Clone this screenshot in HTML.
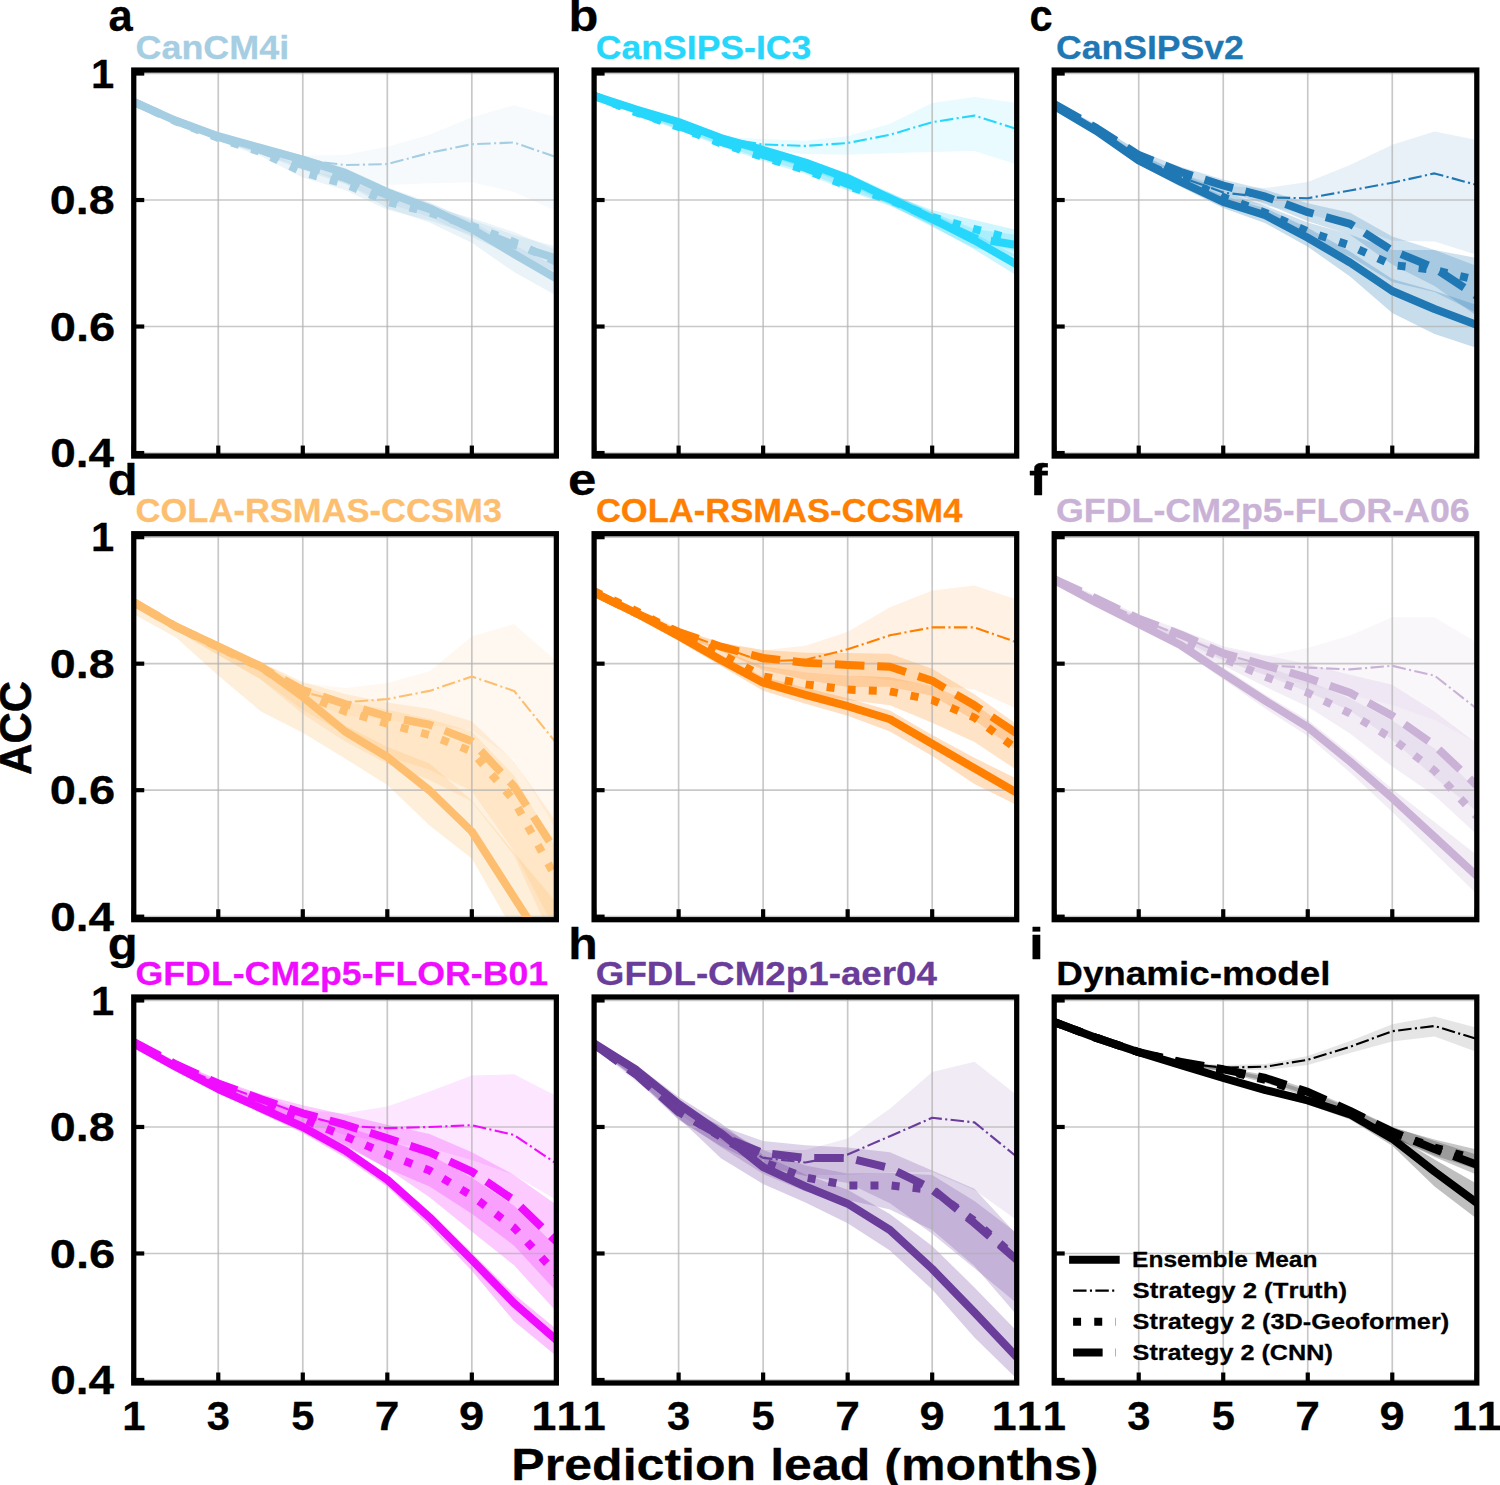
<!DOCTYPE html>
<html><head><meta charset="utf-8"><title>ACC</title><style>html,body{margin:0;padding:0;background:#fff;width:1500px;height:1485px;overflow:hidden}svg{display:block}svg text{font-family:"Liberation Sans", sans-serif;font-weight:bold;font-kerning:none}</style></head><body>
<svg width="1500" height="1485" viewBox="0 0 1500 1485">
<rect width="1500" height="1485" fill="#fff"/>
<clipPath id="cpa"><rect x="133.75" y="70.05" width="422.60" height="386.00"/></clipPath>
<g clip-path="url(#cpa)">
<path d="M133.75,99.00 L176.01,116.50 L218.27,133.00 L260.53,145.50 L302.79,155.50 L345.05,155.00 L387.31,146.80 L429.57,134.70 L471.83,117.30 L514.09,105.20 L556.35,117.30 L556.35,210.90 L514.09,191.90 L471.83,182.30 L429.57,183.20 L387.31,184.90 L345.05,180.00 L302.79,166.00 L260.53,152.00 L218.27,139.00 L176.01,122.50 L133.75,105.00 Z" fill="#a6cee3" fill-opacity="0.1"/>
<path d="M133.75,99.00 L176.01,117.80 L218.27,133.20 L260.53,143.90 L302.79,155.60 L345.05,167.90 L387.31,187.20 L429.57,202.40 L471.83,221.80 L514.09,245.00 L556.35,266.60 L556.35,295.60 L514.09,272.00 L471.83,242.80 L429.57,222.40 L387.31,208.20 L345.05,182.90 L302.79,167.60 L260.53,153.90 L218.27,140.20 L176.01,123.80 L133.75,105.00 Z" fill="#a6cee3" fill-opacity="0.25"/>
<path d="M133.75,99.00 L176.01,118.00 L218.27,134.00 L260.53,146.00 L302.79,161.00 L345.05,173.00 L387.31,189.00 L429.57,203.00 L471.83,220.00 L514.09,235.00 L556.35,246.50 L556.35,271.50 L514.09,256.00 L471.83,237.00 L429.57,217.00 L387.31,203.00 L345.05,184.00 L302.79,170.00 L260.53,154.00 L218.27,140.00 L176.01,124.00 L133.75,105.00 Z" fill="#a6cee3" fill-opacity="0.22"/>
<path d="M133.75,99.00 L176.01,118.50 L218.27,135.00 L260.53,148.00 L302.79,168.40 L345.05,179.00 L387.31,195.80 L429.57,206.60 L471.83,218.00 L514.09,232.00 L556.35,250.00 L556.35,275.00 L514.09,253.00 L471.83,235.00 L429.57,220.60 L387.31,209.80 L345.05,190.00 L302.79,177.40 L260.53,156.00 L218.27,141.00 L176.01,124.50 L133.75,105.00 Z" fill="#a6cee3" fill-opacity="0.22"/>
<g stroke="#b0b0b0" stroke-opacity="0.7" stroke-width="1.68"><line x1="133.75" y1="70.05" x2="133.75" y2="456.05"/><line x1="218.27" y1="70.05" x2="218.27" y2="456.05"/><line x1="302.79" y1="70.05" x2="302.79" y2="456.05"/><line x1="387.31" y1="70.05" x2="387.31" y2="456.05"/><line x1="471.83" y1="70.05" x2="471.83" y2="456.05"/><line x1="556.35" y1="70.05" x2="556.35" y2="456.05"/><line x1="133.75" y1="73.53" x2="556.35" y2="73.53"/><line x1="133.75" y1="200.03" x2="556.35" y2="200.03"/><line x1="133.75" y1="326.53" x2="556.35" y2="326.53"/><line x1="133.75" y1="453.03" x2="556.35" y2="453.03"/></g>
<polyline points="133.75,102.00 176.01,120.80 218.27,136.20 260.53,147.90 302.79,159.60 345.05,172.90 387.31,192.20 429.57,208.40 471.83,228.80 514.09,254.00 556.35,278.60" fill="none" stroke="#a6cee3" stroke-width="7.98" stroke-linejoin="round" stroke-linecap="square"/>
<polyline points="133.75,102.00 176.01,120.80 218.27,136.20 260.53,147.90 302.79,160.00 345.05,165.00 387.31,164.10 429.57,152.90 471.83,144.20 514.09,142.50 556.35,157.20" fill="none" stroke="#a6cee3" stroke-width="2.10" stroke-linejoin="round" stroke-dasharray="13.44 3.36 2.10 3.36"/>
<polyline points="133.75,102.00 176.01,121.50 218.27,138.00 260.53,152.00 302.79,172.40 345.05,184.00 387.31,201.80 429.57,212.60 471.83,226.00 514.09,242.00 556.35,262.00" fill="none" stroke="#a6cee3" stroke-width="7.98" stroke-linejoin="round" stroke-dasharray="7.98 13.17"/>
<polyline points="133.75,102.00 176.01,121.00 218.27,137.00 260.53,150.00 302.79,165.00 345.05,178.00 387.31,195.00 429.57,209.00 471.83,228.00 514.09,245.00 556.35,258.50" fill="none" stroke="#a6cee3" stroke-width="7.98" stroke-linejoin="round" stroke-dasharray="29.53 12.77"/>
</g>
<g stroke="#000" stroke-width="4.20"><line x1="133.75" y1="456.05" x2="133.75" y2="445.55"/><line x1="218.27" y1="456.05" x2="218.27" y2="445.55"/><line x1="302.79" y1="456.05" x2="302.79" y2="445.55"/><line x1="387.31" y1="456.05" x2="387.31" y2="445.55"/><line x1="471.83" y1="456.05" x2="471.83" y2="445.55"/><line x1="556.35" y1="456.05" x2="556.35" y2="445.55"/><line x1="133.75" y1="73.53" x2="144.25" y2="73.53"/><line x1="133.75" y1="200.03" x2="144.25" y2="200.03"/><line x1="133.75" y1="326.53" x2="144.25" y2="326.53"/><line x1="133.75" y1="453.03" x2="144.25" y2="453.03"/></g>
<rect x="133.75" y="70.05" width="422.60" height="386.00" fill="none" stroke="#000" stroke-width="5.25" stroke-linejoin="miter"/>
<text transform="translate(135.49,58.60) scale(1.1411,1.0596)" font-size="31.50" fill="#a6cee3" stroke="#a6cee3" stroke-width="0.25" stroke-linejoin="round">CanCM4i</text>
<text transform="translate(108.43,31.40) scale(1.0375,1.0596)" font-size="42.00" fill="#000" stroke="#000" stroke-width="0.25" stroke-linejoin="round">a</text>
<text transform="translate(90.93,87.63) scale(1.1049,1.0596)" font-size="37.80" fill="#000" stroke="#000" stroke-width="0.25" stroke-linejoin="round">1</text>
<text transform="translate(49.81,214.13) scale(1.2347,1.0596)" font-size="37.80" fill="#000" stroke="#000" stroke-width="0.25" stroke-linejoin="round">0.8</text>
<text transform="translate(49.70,340.63) scale(1.2478,1.0596)" font-size="37.80" fill="#000" stroke="#000" stroke-width="0.25" stroke-linejoin="round">0.6</text>
<text transform="translate(50.15,467.13) scale(1.2173,1.0596)" font-size="37.80" fill="#000" stroke="#000" stroke-width="0.25" stroke-linejoin="round">0.4</text>
<clipPath id="cpb"><rect x="594.10" y="70.05" width="422.60" height="386.00"/></clipPath>
<g clip-path="url(#cpb)">
<path d="M594.10,93.00 L636.36,108.50 L678.62,124.00 L720.88,137.00 L763.14,139.00 L805.40,140.70 L847.66,136.30 L889.92,123.70 L932.18,103.00 L974.44,97.00 L1016.70,103.00 L1016.70,164.40 L974.44,151.10 L932.18,151.90 L889.92,153.30 L847.66,154.80 L805.40,154.00 L763.14,150.00 L720.88,144.00 L678.62,129.00 L636.36,113.00 L594.10,97.00 Z" fill="#26d7fb" fill-opacity="0.1"/>
<path d="M594.10,93.80 L636.36,107.50 L678.62,119.00 L720.88,135.00 L763.14,146.00 L805.40,158.50 L847.66,173.20 L889.92,192.40 L932.18,212.80 L974.44,233.40 L1016.70,255.40 L1016.70,275.40 L974.44,249.40 L932.18,225.80 L889.92,204.40 L847.66,184.20 L805.40,168.50 L763.14,155.00 L720.88,142.00 L678.62,125.00 L636.36,112.50 L594.10,97.80 Z" fill="#26d7fb" fill-opacity="0.25"/>
<path d="M594.10,93.80 L636.36,110.00 L678.62,123.00 L720.88,139.00 L763.14,151.00 L805.40,164.00 L847.66,179.00 L889.92,193.00 L932.18,212.00 L974.44,229.00 L1016.70,235.00 L1016.70,257.00 L974.44,248.00 L932.18,227.00 L889.92,205.00 L847.66,189.00 L805.40,172.00 L763.14,159.00 L720.88,145.00 L678.62,129.00 L636.36,114.00 L594.10,97.80 Z" fill="#26d7fb" fill-opacity="0.22"/>
<path d="M594.10,93.80 L636.36,110.50 L678.62,124.00 L720.88,140.50 L763.14,153.00 L805.40,166.00 L847.66,180.80 L889.92,194.00 L932.18,210.00 L974.44,220.00 L1016.70,230.00 L1016.70,252.00 L974.44,239.00 L932.18,225.00 L889.92,206.00 L847.66,190.80 L805.40,174.00 L763.14,161.00 L720.88,146.50 L678.62,130.00 L636.36,114.50 L594.10,97.80 Z" fill="#26d7fb" fill-opacity="0.22"/>
<g stroke="#b0b0b0" stroke-opacity="0.7" stroke-width="1.68"><line x1="594.10" y1="70.05" x2="594.10" y2="456.05"/><line x1="678.62" y1="70.05" x2="678.62" y2="456.05"/><line x1="763.14" y1="70.05" x2="763.14" y2="456.05"/><line x1="847.66" y1="70.05" x2="847.66" y2="456.05"/><line x1="932.18" y1="70.05" x2="932.18" y2="456.05"/><line x1="1016.70" y1="70.05" x2="1016.70" y2="456.05"/><line x1="594.10" y1="73.53" x2="1016.70" y2="73.53"/><line x1="594.10" y1="200.03" x2="1016.70" y2="200.03"/><line x1="594.10" y1="326.53" x2="1016.70" y2="326.53"/><line x1="594.10" y1="453.03" x2="1016.70" y2="453.03"/></g>
<polyline points="594.10,95.80 636.36,109.50 678.62,122.00 720.88,138.00 763.14,150.00 805.40,162.50 847.66,178.20 889.92,198.40 932.18,218.80 974.44,240.40 1016.70,264.40" fill="none" stroke="#26d7fb" stroke-width="7.98" stroke-linejoin="round" stroke-linecap="square"/>
<polyline points="594.10,95.80 636.36,109.50 678.62,122.00 720.88,138.00 763.14,144.50 805.40,145.90 847.66,143.00 889.92,134.80 932.18,122.20 974.44,115.60 1016.70,128.90" fill="none" stroke="#26d7fb" stroke-width="2.10" stroke-linejoin="round" stroke-dasharray="13.44 3.36 2.10 3.36"/>
<polyline points="594.10,95.80 636.36,112.50 678.62,127.00 720.88,143.50 763.14,157.00 805.40,170.00 847.66,185.80 889.92,200.00 932.18,217.00 974.44,229.00 1016.70,240.00" fill="none" stroke="#26d7fb" stroke-width="7.98" stroke-linejoin="round" stroke-dasharray="7.98 13.17"/>
<polyline points="594.10,95.80 636.36,112.00 678.62,126.00 720.88,142.00 763.14,155.00 805.40,168.00 847.66,184.00 889.92,199.00 932.18,219.00 974.44,238.00 1016.70,245.00" fill="none" stroke="#26d7fb" stroke-width="7.98" stroke-linejoin="round" stroke-dasharray="29.53 12.77"/>
</g>
<g stroke="#000" stroke-width="4.20"><line x1="594.10" y1="456.05" x2="594.10" y2="445.55"/><line x1="678.62" y1="456.05" x2="678.62" y2="445.55"/><line x1="763.14" y1="456.05" x2="763.14" y2="445.55"/><line x1="847.66" y1="456.05" x2="847.66" y2="445.55"/><line x1="932.18" y1="456.05" x2="932.18" y2="445.55"/><line x1="1016.70" y1="456.05" x2="1016.70" y2="445.55"/><line x1="594.10" y1="73.53" x2="604.60" y2="73.53"/><line x1="594.10" y1="200.03" x2="604.60" y2="200.03"/><line x1="594.10" y1="326.53" x2="604.60" y2="326.53"/><line x1="594.10" y1="453.03" x2="604.60" y2="453.03"/></g>
<rect x="594.10" y="70.05" width="422.60" height="386.00" fill="none" stroke="#000" stroke-width="5.25" stroke-linejoin="miter"/>
<text transform="translate(595.86,58.60) scale(1.1293,1.0596)" font-size="31.50" fill="#26d7fb" stroke="#26d7fb" stroke-width="0.25" stroke-linejoin="round">CanSIPS-IC3</text>
<text transform="translate(568.40,31.40) scale(1.1647,1.0596)" font-size="42.00" fill="#000" stroke="#000" stroke-width="0.25" stroke-linejoin="round">b</text>
<clipPath id="cpc"><rect x="1054.20" y="70.05" width="422.60" height="386.00"/></clipPath>
<g clip-path="url(#cpc)">
<path d="M1054.20,103.00 L1096.46,124.00 L1138.72,152.00 L1180.98,174.00 L1223.24,186.00 L1265.50,188.10 L1307.76,182.00 L1350.02,164.90 L1392.28,144.80 L1434.54,131.60 L1476.80,140.10 L1476.80,254.70 L1434.54,241.60 L1392.28,240.80 L1350.02,225.00 L1307.76,214.00 L1265.50,206.00 L1223.24,199.00 L1180.98,184.00 L1138.72,160.00 L1096.46,129.00 L1054.20,107.00 Z" fill="#1f78b4" fill-opacity="0.1"/>
<path d="M1054.20,104.00 L1096.46,128.00 L1138.72,156.50 L1180.98,177.00 L1223.24,196.00 L1265.50,208.30 L1307.76,227.70 L1350.02,251.50 L1392.28,279.00 L1434.54,291.00 L1476.80,305.00 L1476.80,348.00 L1434.54,334.00 L1392.28,313.00 L1350.02,276.50 L1307.76,246.70 L1265.50,223.30 L1223.24,208.00 L1180.98,187.00 L1138.72,164.50 L1096.46,134.00 L1054.20,108.00 Z" fill="#1f78b4" fill-opacity="0.25"/>
<path d="M1054.20,102.00 L1096.46,125.00 L1138.72,151.00 L1180.98,167.00 L1223.24,179.50 L1265.50,189.70 L1307.76,203.20 L1350.02,212.80 L1392.28,236.50 L1434.54,250.00 L1476.80,266.00 L1476.80,316.00 L1434.54,286.00 L1392.28,264.50 L1350.02,234.80 L1307.76,221.20 L1265.50,203.70 L1223.24,191.50 L1180.98,177.00 L1138.72,159.00 L1096.46,131.00 L1054.20,106.00 Z" fill="#1f78b4" fill-opacity="0.22"/>
<path d="M1054.20,103.00 L1096.46,126.50 L1138.72,154.00 L1180.98,173.00 L1223.24,191.00 L1265.50,205.90 L1307.76,222.50 L1350.02,234.50 L1392.28,250.00 L1434.54,250.00 L1476.80,258.00 L1476.80,313.00 L1434.54,292.00 L1392.28,282.00 L1350.02,256.50 L1307.76,240.50 L1265.50,219.90 L1223.24,203.00 L1180.98,183.00 L1138.72,162.00 L1096.46,132.50 L1054.20,107.00 Z" fill="#1f78b4" fill-opacity="0.22"/>
<g stroke="#b0b0b0" stroke-opacity="0.7" stroke-width="1.68"><line x1="1054.20" y1="70.05" x2="1054.20" y2="456.05"/><line x1="1138.72" y1="70.05" x2="1138.72" y2="456.05"/><line x1="1223.24" y1="70.05" x2="1223.24" y2="456.05"/><line x1="1307.76" y1="70.05" x2="1307.76" y2="456.05"/><line x1="1392.28" y1="70.05" x2="1392.28" y2="456.05"/><line x1="1476.80" y1="70.05" x2="1476.80" y2="456.05"/><line x1="1054.20" y1="73.53" x2="1476.80" y2="73.53"/><line x1="1054.20" y1="200.03" x2="1476.80" y2="200.03"/><line x1="1054.20" y1="326.53" x2="1476.80" y2="326.53"/><line x1="1054.20" y1="453.03" x2="1476.80" y2="453.03"/></g>
<polyline points="1054.20,106.00 1096.46,131.00 1138.72,160.50 1180.98,182.00 1223.24,202.00 1265.50,215.30 1307.76,237.70 1350.02,262.50 1392.28,291.00 1434.54,309.00 1476.80,325.00" fill="none" stroke="#1f78b4" stroke-width="7.98" stroke-linejoin="round" stroke-linecap="square"/>
<polyline points="1054.20,105.00 1096.46,129.50 1138.72,157.00 1180.98,177.00 1223.24,192.60 1265.50,197.40 1307.76,198.20 1350.02,190.50 1392.28,182.70 1434.54,173.40 1476.80,185.00" fill="none" stroke="#1f78b4" stroke-width="2.10" stroke-linejoin="round" stroke-dasharray="13.44 3.36 2.10 3.36"/>
<polyline points="1054.20,105.00 1096.46,129.50 1138.72,158.00 1180.98,178.00 1223.24,197.00 1265.50,212.90 1307.76,231.50 1350.02,245.50 1392.28,265.00 1434.54,270.00 1476.80,280.00" fill="none" stroke="#1f78b4" stroke-width="7.98" stroke-linejoin="round" stroke-dasharray="7.98 13.17"/>
<polyline points="1054.20,104.00 1096.46,128.00 1138.72,155.00 1180.98,172.00 1223.24,185.50 1265.50,196.70 1307.76,212.20 1350.02,223.80 1392.28,250.50 1434.54,268.00 1476.80,296.00" fill="none" stroke="#1f78b4" stroke-width="7.98" stroke-linejoin="round" stroke-dasharray="29.53 12.77"/>
</g>
<g stroke="#000" stroke-width="4.20"><line x1="1054.20" y1="456.05" x2="1054.20" y2="445.55"/><line x1="1138.72" y1="456.05" x2="1138.72" y2="445.55"/><line x1="1223.24" y1="456.05" x2="1223.24" y2="445.55"/><line x1="1307.76" y1="456.05" x2="1307.76" y2="445.55"/><line x1="1392.28" y1="456.05" x2="1392.28" y2="445.55"/><line x1="1476.80" y1="456.05" x2="1476.80" y2="445.55"/><line x1="1054.20" y1="73.53" x2="1064.70" y2="73.53"/><line x1="1054.20" y1="200.03" x2="1064.70" y2="200.03"/><line x1="1054.20" y1="326.53" x2="1064.70" y2="326.53"/><line x1="1054.20" y1="453.03" x2="1064.70" y2="453.03"/></g>
<rect x="1054.20" y="70.05" width="422.60" height="386.00" fill="none" stroke="#000" stroke-width="5.25" stroke-linejoin="miter"/>
<text transform="translate(1055.96,58.60) scale(1.1304,1.0596)" font-size="31.50" fill="#1f78b4" stroke="#1f78b4" stroke-width="0.25" stroke-linejoin="round">CanSIPSv2</text>
<text transform="translate(1029.38,31.40) scale(0.9900,1.0596)" font-size="42.00" fill="#000" stroke="#000" stroke-width="0.25" stroke-linejoin="round">c</text>
<clipPath id="cpd"><rect x="133.75" y="533.70" width="422.60" height="386.00"/></clipPath>
<g clip-path="url(#cpd)">
<path d="M133.75,599.00 L176.01,623.00 L218.27,643.00 L260.53,662.00 L302.79,683.00 L345.05,688.00 L387.31,683.00 L429.57,671.30 L471.83,636.40 L514.09,624.10 L556.35,661.00 L556.35,830.00 L514.09,760.00 L471.83,730.00 L429.57,725.00 L387.31,720.00 L345.05,715.00 L302.79,700.00 L260.53,672.00 L218.27,650.00 L176.01,630.00 L133.75,605.00 Z" fill="#fdbf6f" fill-opacity="0.1"/>
<path d="M133.75,599.30 L176.01,623.60 L218.27,643.40 L260.53,662.20 L302.79,691.80 L345.05,725.50 L387.31,747.00 L429.57,763.50 L471.83,800.50 L514.09,852.30 L556.35,902.80 L556.35,1002.80 L514.09,932.30 L471.83,858.50 L429.57,825.50 L387.31,785.00 L345.05,758.50 L302.79,732.80 L260.53,711.20 L218.27,675.40 L176.01,637.60 L133.75,614.30 Z" fill="#fdbf6f" fill-opacity="0.25"/>
<path d="M133.75,599.30 L176.01,623.60 L218.27,643.00 L260.53,662.00 L302.79,682.00 L345.05,694.00 L387.31,702.50 L429.57,708.70 L471.83,721.20 L514.09,761.40 L556.35,822.10 L556.35,932.10 L514.09,851.40 L471.83,791.20 L429.57,769.70 L387.31,756.50 L345.05,734.00 L302.79,710.00 L260.53,679.00 L218.27,655.00 L176.01,630.60 L133.75,605.30 Z" fill="#fdbf6f" fill-opacity="0.22"/>
<path d="M133.75,599.30 L176.01,623.60 L218.27,643.00 L260.53,662.50 L302.79,686.00 L345.05,701.40 L387.31,709.70 L429.57,719.00 L471.83,731.40 L514.09,775.70 L556.35,848.80 L556.35,948.80 L514.09,855.70 L471.83,801.40 L429.57,780.00 L387.31,763.70 L345.05,741.40 L302.79,714.00 L260.53,679.50 L218.27,655.00 L176.01,630.60 L133.75,605.30 Z" fill="#fdbf6f" fill-opacity="0.22"/>
<g stroke="#b0b0b0" stroke-opacity="0.7" stroke-width="1.68"><line x1="133.75" y1="533.70" x2="133.75" y2="919.70"/><line x1="218.27" y1="533.70" x2="218.27" y2="919.70"/><line x1="302.79" y1="533.70" x2="302.79" y2="919.70"/><line x1="387.31" y1="533.70" x2="387.31" y2="919.70"/><line x1="471.83" y1="533.70" x2="471.83" y2="919.70"/><line x1="556.35" y1="533.70" x2="556.35" y2="919.70"/><line x1="133.75" y1="537.18" x2="556.35" y2="537.18"/><line x1="133.75" y1="663.68" x2="556.35" y2="663.68"/><line x1="133.75" y1="790.18" x2="556.35" y2="790.18"/><line x1="133.75" y1="916.68" x2="556.35" y2="916.68"/></g>
<polyline points="133.75,602.30 176.01,626.60 218.27,646.40 260.53,666.20 302.79,696.80 345.05,731.50 387.31,757.00 429.57,790.50 471.83,831.50 514.09,897.30 556.35,962.80" fill="none" stroke="#fdbf6f" stroke-width="7.98" stroke-linejoin="round" stroke-linecap="square"/>
<polyline points="133.75,602.30 176.01,626.60 218.27,646.40 260.53,666.20 302.79,692.00 345.05,702.20 387.31,699.10 429.57,690.90 471.83,676.50 514.09,690.90 556.35,743.20" fill="none" stroke="#fdbf6f" stroke-width="2.10" stroke-linejoin="round" stroke-dasharray="13.44 3.36 2.10 3.36"/>
<polyline points="133.75,602.30 176.01,626.60 218.27,647.00 260.53,667.50 302.79,694.00 345.05,711.40 387.31,723.70 429.57,735.00 471.83,751.40 514.09,800.70 556.35,878.80" fill="none" stroke="#fdbf6f" stroke-width="7.98" stroke-linejoin="round" stroke-dasharray="7.98 13.17"/>
<polyline points="133.75,602.30 176.01,626.60 218.27,647.00 260.53,667.00 302.79,690.00 345.05,704.00 387.31,716.50 429.57,724.70 471.83,741.20 514.09,786.40 556.35,852.10" fill="none" stroke="#fdbf6f" stroke-width="7.98" stroke-linejoin="round" stroke-dasharray="29.53 12.77"/>
</g>
<g stroke="#000" stroke-width="4.20"><line x1="133.75" y1="919.70" x2="133.75" y2="909.20"/><line x1="218.27" y1="919.70" x2="218.27" y2="909.20"/><line x1="302.79" y1="919.70" x2="302.79" y2="909.20"/><line x1="387.31" y1="919.70" x2="387.31" y2="909.20"/><line x1="471.83" y1="919.70" x2="471.83" y2="909.20"/><line x1="556.35" y1="919.70" x2="556.35" y2="909.20"/><line x1="133.75" y1="537.18" x2="144.25" y2="537.18"/><line x1="133.75" y1="663.68" x2="144.25" y2="663.68"/><line x1="133.75" y1="790.18" x2="144.25" y2="790.18"/><line x1="133.75" y1="916.68" x2="144.25" y2="916.68"/></g>
<rect x="133.75" y="533.70" width="422.60" height="386.00" fill="none" stroke="#000" stroke-width="5.25" stroke-linejoin="miter"/>
<text transform="translate(135.55,521.90) scale(1.0969,1.0596)" font-size="31.50" fill="#fdbf6f" stroke="#fdbf6f" stroke-width="0.25" stroke-linejoin="round">COLA-RSMAS-CCSM3</text>
<text transform="translate(107.78,495.00) scale(1.1647,1.0596)" font-size="42.00" fill="#000" stroke="#000" stroke-width="0.25" stroke-linejoin="round">d</text>
<text transform="translate(90.93,551.28) scale(1.1049,1.0596)" font-size="37.80" fill="#000" stroke="#000" stroke-width="0.25" stroke-linejoin="round">1</text>
<text transform="translate(49.81,677.78) scale(1.2347,1.0596)" font-size="37.80" fill="#000" stroke="#000" stroke-width="0.25" stroke-linejoin="round">0.8</text>
<text transform="translate(49.70,804.28) scale(1.2478,1.0596)" font-size="37.80" fill="#000" stroke="#000" stroke-width="0.25" stroke-linejoin="round">0.6</text>
<text transform="translate(50.15,930.78) scale(1.2173,1.0596)" font-size="37.80" fill="#000" stroke="#000" stroke-width="0.25" stroke-linejoin="round">0.4</text>
<clipPath id="cpe"><rect x="594.10" y="533.70" width="422.60" height="386.00"/></clipPath>
<g clip-path="url(#cpe)">
<path d="M594.10,589.00 L636.36,608.00 L678.62,628.00 L720.88,643.00 L763.14,650.20 L805.40,645.80 L847.66,631.80 L889.92,607.30 L932.18,590.60 L974.44,585.40 L1016.70,599.40 L1016.70,708.80 L974.44,689.60 L932.18,685.00 L889.92,680.00 L847.66,675.00 L805.40,672.00 L763.14,668.00 L720.88,651.00 L678.62,634.00 L636.36,614.00 L594.10,593.00 Z" fill="#ff7f00" fill-opacity="0.1"/>
<path d="M594.10,589.70 L636.36,610.30 L678.62,632.00 L720.88,655.00 L763.14,676.70 L805.40,687.80 L847.66,698.20 L889.92,710.60 L932.18,735.00 L974.44,757.80 L1016.70,778.80 L1016.70,805.00 L974.44,784.00 L932.18,756.00 L889.92,731.60 L847.66,715.80 L805.40,703.80 L763.14,690.70 L720.88,666.00 L678.62,641.00 L636.36,617.30 L594.10,595.70 Z" fill="#ff7f00" fill-opacity="0.25"/>
<path d="M594.10,590.70 L636.36,611.30 L678.62,629.00 L720.88,642.70 L763.14,650.00 L805.40,652.70 L847.66,653.00 L889.92,653.80 L932.18,668.80 L974.44,694.30 L1016.70,724.30 L1016.70,750.30 L974.44,720.30 L932.18,695.80 L889.92,686.80 L847.66,687.00 L805.40,679.70 L763.14,670.00 L720.88,650.70 L678.62,635.00 L636.36,615.30 L594.10,594.70 Z" fill="#ff7f00" fill-opacity="0.22"/>
<path d="M594.10,589.10 L636.36,609.10 L678.62,630.00 L720.88,650.00 L763.14,666.40 L805.40,672.30 L847.66,675.60 L889.92,677.30 L932.18,686.00 L974.44,703.60 L1016.70,735.00 L1016.70,770.00 L974.44,742.00 L932.18,722.80 L889.92,705.30 L847.66,700.00 L805.40,694.30 L763.14,684.40 L720.88,658.00 L678.62,636.00 L636.36,613.10 L594.10,593.10 Z" fill="#ff7f00" fill-opacity="0.22"/>
<g stroke="#b0b0b0" stroke-opacity="0.7" stroke-width="1.68"><line x1="594.10" y1="533.70" x2="594.10" y2="919.70"/><line x1="678.62" y1="533.70" x2="678.62" y2="919.70"/><line x1="763.14" y1="533.70" x2="763.14" y2="919.70"/><line x1="847.66" y1="533.70" x2="847.66" y2="919.70"/><line x1="932.18" y1="533.70" x2="932.18" y2="919.70"/><line x1="1016.70" y1="533.70" x2="1016.70" y2="919.70"/><line x1="594.10" y1="537.18" x2="1016.70" y2="537.18"/><line x1="594.10" y1="663.68" x2="1016.70" y2="663.68"/><line x1="594.10" y1="790.18" x2="1016.70" y2="790.18"/><line x1="594.10" y1="916.68" x2="1016.70" y2="916.68"/></g>
<polyline points="594.10,592.70 636.36,613.30 678.62,636.00 720.88,660.00 763.14,682.70 805.40,694.80 847.66,706.20 889.92,719.30 932.18,743.80 974.44,768.30 1016.70,792.80" fill="none" stroke="#ff7f00" stroke-width="7.98" stroke-linejoin="round" stroke-linecap="square"/>
<polyline points="594.10,591.10 636.36,611.10 678.62,631.20 720.88,647.00 763.14,661.50 805.40,659.80 847.66,649.30 889.92,635.30 932.18,627.40 974.44,627.40 1016.70,642.30" fill="none" stroke="#ff7f00" stroke-width="2.10" stroke-linejoin="round" stroke-dasharray="13.44 3.36 2.10 3.36"/>
<polyline points="594.10,591.10 636.36,611.10 678.62,633.00 720.88,654.00 763.14,676.40 805.40,684.30 847.66,689.60 889.92,691.30 932.18,700.00 974.44,717.60 1016.70,749.00" fill="none" stroke="#ff7f00" stroke-width="7.98" stroke-linejoin="round" stroke-dasharray="7.98 13.17"/>
<polyline points="594.10,592.70 636.36,613.30 678.62,632.00 720.88,646.70 763.14,658.00 805.40,662.70 847.66,665.00 889.92,666.80 932.18,680.80 974.44,705.30 1016.70,733.30" fill="none" stroke="#ff7f00" stroke-width="7.98" stroke-linejoin="round" stroke-dasharray="29.53 12.77"/>
</g>
<g stroke="#000" stroke-width="4.20"><line x1="594.10" y1="919.70" x2="594.10" y2="909.20"/><line x1="678.62" y1="919.70" x2="678.62" y2="909.20"/><line x1="763.14" y1="919.70" x2="763.14" y2="909.20"/><line x1="847.66" y1="919.70" x2="847.66" y2="909.20"/><line x1="932.18" y1="919.70" x2="932.18" y2="909.20"/><line x1="1016.70" y1="919.70" x2="1016.70" y2="909.20"/><line x1="594.10" y1="537.18" x2="604.60" y2="537.18"/><line x1="594.10" y1="663.68" x2="604.60" y2="663.68"/><line x1="594.10" y1="790.18" x2="604.60" y2="790.18"/><line x1="594.10" y1="916.68" x2="604.60" y2="916.68"/></g>
<rect x="594.10" y="533.70" width="422.60" height="386.00" fill="none" stroke="#000" stroke-width="5.25" stroke-linejoin="miter"/>
<text transform="translate(595.90,521.90) scale(1.0969,1.0596)" font-size="31.50" fill="#ff7f00" stroke="#ff7f00" stroke-width="0.25" stroke-linejoin="round">COLA-RSMAS-CCSM4</text>
<text transform="translate(567.91,495.00) scale(1.2154,1.0596)" font-size="42.00" fill="#000" stroke="#000" stroke-width="0.25" stroke-linejoin="round">e</text>
<clipPath id="cpf"><rect x="1054.20" y="533.70" width="422.60" height="386.00"/></clipPath>
<g clip-path="url(#cpf)">
<path d="M1054.20,577.00 L1096.46,598.00 L1138.72,616.00 L1180.98,634.00 L1223.24,648.00 L1265.50,656.20 L1307.76,648.10 L1350.02,635.50 L1392.28,617.20 L1434.54,617.20 L1476.80,642.40 L1476.80,743.00 L1434.54,720.00 L1392.28,705.00 L1350.02,695.00 L1307.76,685.00 L1265.50,675.00 L1223.24,661.00 L1180.98,643.00 L1138.72,623.00 L1096.46,604.00 L1054.20,582.00 Z" fill="#cab2d6" fill-opacity="0.1"/>
<path d="M1054.20,577.00 L1096.46,599.70 L1138.72,620.00 L1180.98,640.30 L1223.24,667.30 L1265.50,694.80 L1307.76,720.10 L1350.02,753.50 L1392.28,789.10 L1434.54,822.00 L1476.80,855.00 L1476.80,894.00 L1434.54,853.00 L1392.28,812.10 L1350.02,772.50 L1307.76,736.10 L1265.50,708.80 L1223.24,679.30 L1180.98,650.30 L1138.72,628.00 L1096.46,605.70 L1054.20,583.00 Z" fill="#cab2d6" fill-opacity="0.25"/>
<path d="M1054.20,576.00 L1096.46,595.70 L1138.72,614.70 L1180.98,629.70 L1223.24,646.30 L1265.50,655.30 L1307.76,663.90 L1350.02,674.80 L1392.28,684.70 L1434.54,711.40 L1476.80,743.50 L1476.80,811.50 L1434.54,777.40 L1392.28,739.70 L1350.02,710.80 L1307.76,691.90 L1265.50,675.30 L1223.24,660.30 L1180.98,639.70 L1138.72,622.70 L1096.46,601.70 L1054.20,582.00 Z" fill="#cab2d6" fill-opacity="0.22"/>
<path d="M1054.20,576.50 L1096.46,597.00 L1138.72,617.00 L1180.98,635.00 L1223.24,651.40 L1265.50,666.80 L1307.76,680.80 L1350.02,698.40 L1392.28,720.60 L1434.54,748.60 L1476.80,789.40 L1476.80,834.40 L1434.54,795.60 L1392.28,766.60 L1350.02,733.40 L1307.76,706.80 L1265.50,686.80 L1223.24,665.40 L1180.98,645.00 L1138.72,625.00 L1096.46,603.00 L1054.20,582.50 Z" fill="#cab2d6" fill-opacity="0.22"/>
<g stroke="#b0b0b0" stroke-opacity="0.7" stroke-width="1.68"><line x1="1054.20" y1="533.70" x2="1054.20" y2="919.70"/><line x1="1138.72" y1="533.70" x2="1138.72" y2="919.70"/><line x1="1223.24" y1="533.70" x2="1223.24" y2="919.70"/><line x1="1307.76" y1="533.70" x2="1307.76" y2="919.70"/><line x1="1392.28" y1="533.70" x2="1392.28" y2="919.70"/><line x1="1476.80" y1="533.70" x2="1476.80" y2="919.70"/><line x1="1054.20" y1="537.18" x2="1476.80" y2="537.18"/><line x1="1054.20" y1="663.68" x2="1476.80" y2="663.68"/><line x1="1054.20" y1="790.18" x2="1476.80" y2="790.18"/><line x1="1054.20" y1="916.68" x2="1476.80" y2="916.68"/></g>
<polyline points="1054.20,580.00 1096.46,602.70 1138.72,624.00 1180.98,645.30 1223.24,673.30 1265.50,700.80 1307.76,727.10 1350.02,761.50 1392.28,798.10 1434.54,837.00 1476.80,876.00" fill="none" stroke="#cab2d6" stroke-width="7.98" stroke-linejoin="round" stroke-linecap="square"/>
<polyline points="1054.20,579.00 1096.46,598.70 1138.72,618.70 1180.98,636.00 1223.24,654.10 1265.50,665.30 1307.76,667.60 1350.02,669.40 1392.28,665.80 1434.54,675.60 1476.80,708.80" fill="none" stroke="#cab2d6" stroke-width="2.10" stroke-linejoin="round" stroke-dasharray="13.44 3.36 2.10 3.36"/>
<polyline points="1054.20,579.50 1096.46,600.00 1138.72,621.00 1180.98,640.00 1223.24,658.40 1265.50,676.80 1307.76,692.80 1350.02,713.40 1392.28,738.60 1434.54,770.60 1476.80,816.40" fill="none" stroke="#cab2d6" stroke-width="7.98" stroke-linejoin="round" stroke-dasharray="7.98 13.17"/>
<polyline points="1054.20,579.00 1096.46,598.70 1138.72,618.70 1180.98,634.70 1223.24,653.30 1265.50,665.30 1307.76,677.90 1350.02,692.80 1392.28,715.70 1434.54,745.40 1476.80,785.50" fill="none" stroke="#cab2d6" stroke-width="7.98" stroke-linejoin="round" stroke-dasharray="29.53 12.77"/>
</g>
<g stroke="#000" stroke-width="4.20"><line x1="1054.20" y1="919.70" x2="1054.20" y2="909.20"/><line x1="1138.72" y1="919.70" x2="1138.72" y2="909.20"/><line x1="1223.24" y1="919.70" x2="1223.24" y2="909.20"/><line x1="1307.76" y1="919.70" x2="1307.76" y2="909.20"/><line x1="1392.28" y1="919.70" x2="1392.28" y2="909.20"/><line x1="1476.80" y1="919.70" x2="1476.80" y2="909.20"/><line x1="1054.20" y1="537.18" x2="1064.70" y2="537.18"/><line x1="1054.20" y1="663.68" x2="1064.70" y2="663.68"/><line x1="1054.20" y1="790.18" x2="1064.70" y2="790.18"/><line x1="1054.20" y1="916.68" x2="1064.70" y2="916.68"/></g>
<rect x="1054.20" y="533.70" width="422.60" height="386.00" fill="none" stroke="#000" stroke-width="5.25" stroke-linejoin="miter"/>
<text transform="translate(1055.95,521.90) scale(1.1374,1.0596)" font-size="31.50" fill="#cab2d6" stroke="#cab2d6" stroke-width="0.25" stroke-linejoin="round">GFDL-CM2p5-FLOR-A06</text>
<text transform="translate(1029.04,495.00) scale(1.3364,1.0596)" font-size="42.00" fill="#000" stroke="#000" stroke-width="0.25" stroke-linejoin="round">f</text>
<clipPath id="cpg"><rect x="133.75" y="997.00" width="422.60" height="386.00"/></clipPath>
<g clip-path="url(#cpg)">
<path d="M133.75,1041.00 L176.01,1062.00 L218.27,1080.00 L260.53,1095.00 L302.79,1110.00 L345.05,1113.30 L387.31,1106.40 L429.57,1091.50 L471.83,1075.50 L514.09,1074.30 L556.35,1096.10 L556.35,1200.00 L514.09,1175.00 L471.83,1160.00 L429.57,1148.00 L387.31,1143.00 L345.05,1135.00 L302.79,1122.00 L260.53,1104.00 L218.27,1087.00 L176.01,1068.00 L133.75,1046.00 Z" fill="#f00cff" fill-opacity="0.1"/>
<path d="M133.75,1040.50 L176.01,1064.00 L218.27,1085.00 L260.53,1103.00 L302.79,1122.00 L345.05,1145.50 L387.31,1174.70 L429.57,1211.40 L471.83,1252.80 L514.09,1294.30 L556.35,1328.90 L556.35,1355.90 L514.09,1321.30 L471.83,1270.80 L429.57,1226.40 L387.31,1186.70 L345.05,1157.50 L302.79,1133.00 L260.53,1113.00 L218.27,1093.00 L176.01,1070.00 L133.75,1046.50 Z" fill="#f00cff" fill-opacity="0.25"/>
<path d="M133.75,1039.00 L176.01,1061.50 L218.27,1079.50 L260.53,1094.00 L302.79,1105.30 L345.05,1114.70 L387.31,1124.70 L429.57,1133.90 L471.83,1152.20 L514.09,1175.00 L556.35,1204.80 L556.35,1311.50 L514.09,1265.30 L471.83,1231.60 L429.57,1197.20 L387.31,1168.40 L345.05,1144.70 L302.79,1123.30 L260.53,1105.00 L218.27,1087.50 L176.01,1067.50 L133.75,1045.00 Z" fill="#f00cff" fill-opacity="0.22"/>
<path d="M133.75,1039.50 L176.01,1062.50 L218.27,1082.00 L260.53,1098.00 L302.79,1112.00 L345.05,1126.20 L387.31,1140.50 L429.57,1154.50 L471.83,1177.70 L514.09,1205.70 L556.35,1246.50 L556.35,1291.50 L514.09,1245.70 L471.83,1213.70 L429.57,1186.50 L387.31,1168.50 L345.05,1146.20 L302.79,1126.00 L260.53,1108.00 L218.27,1090.00 L176.01,1068.50 L133.75,1045.50 Z" fill="#f00cff" fill-opacity="0.22"/>
<g stroke="#b0b0b0" stroke-opacity="0.7" stroke-width="1.68"><line x1="133.75" y1="997.00" x2="133.75" y2="1383.00"/><line x1="218.27" y1="997.00" x2="218.27" y2="1383.00"/><line x1="302.79" y1="997.00" x2="302.79" y2="1383.00"/><line x1="387.31" y1="997.00" x2="387.31" y2="1383.00"/><line x1="471.83" y1="997.00" x2="471.83" y2="1383.00"/><line x1="556.35" y1="997.00" x2="556.35" y2="1383.00"/><line x1="133.75" y1="1000.48" x2="556.35" y2="1000.48"/><line x1="133.75" y1="1126.98" x2="556.35" y2="1126.98"/><line x1="133.75" y1="1253.48" x2="556.35" y2="1253.48"/><line x1="133.75" y1="1379.98" x2="556.35" y2="1379.98"/></g>
<polyline points="133.75,1043.50 176.01,1067.00 218.27,1089.00 260.53,1108.00 302.79,1127.00 345.05,1150.50 387.31,1179.70 429.57,1217.40 471.83,1259.80 514.09,1303.30 556.35,1339.90" fill="none" stroke="#f00cff" stroke-width="7.98" stroke-linejoin="round" stroke-linecap="square"/>
<polyline points="133.75,1042.00 176.01,1064.50 218.27,1083.50 260.53,1099.00 302.79,1115.00 345.05,1125.90 387.31,1128.10 429.57,1127.00 471.83,1125.20 514.09,1135.00 556.35,1163.60" fill="none" stroke="#f00cff" stroke-width="2.10" stroke-linejoin="round" stroke-dasharray="13.44 3.36 2.10 3.36"/>
<polyline points="133.75,1042.50 176.01,1065.50 218.27,1086.00 260.53,1103.00 302.79,1119.00 345.05,1136.20 387.31,1154.50 429.57,1170.50 471.83,1195.70 514.09,1227.70 556.35,1273.50" fill="none" stroke="#f00cff" stroke-width="7.98" stroke-linejoin="round" stroke-dasharray="7.98 13.17"/>
<polyline points="133.75,1042.00 176.01,1064.50 218.27,1083.50 260.53,1099.00 302.79,1113.30 345.05,1124.70 387.31,1138.40 429.57,1152.20 471.83,1171.60 514.09,1200.30 556.35,1241.50" fill="none" stroke="#f00cff" stroke-width="7.98" stroke-linejoin="round" stroke-dasharray="29.53 12.77"/>
</g>
<g stroke="#000" stroke-width="4.20"><line x1="133.75" y1="1383.00" x2="133.75" y2="1372.50"/><line x1="218.27" y1="1383.00" x2="218.27" y2="1372.50"/><line x1="302.79" y1="1383.00" x2="302.79" y2="1372.50"/><line x1="387.31" y1="1383.00" x2="387.31" y2="1372.50"/><line x1="471.83" y1="1383.00" x2="471.83" y2="1372.50"/><line x1="556.35" y1="1383.00" x2="556.35" y2="1372.50"/><line x1="133.75" y1="1000.48" x2="144.25" y2="1000.48"/><line x1="133.75" y1="1126.98" x2="144.25" y2="1126.98"/><line x1="133.75" y1="1253.48" x2="144.25" y2="1253.48"/><line x1="133.75" y1="1379.98" x2="144.25" y2="1379.98"/></g>
<rect x="133.75" y="997.00" width="422.60" height="386.00" fill="none" stroke="#000" stroke-width="5.25" stroke-linejoin="miter"/>
<text transform="translate(135.50,985.30) scale(1.1342,1.0596)" font-size="31.50" fill="#f00cff" stroke="#f00cff" stroke-width="0.25" stroke-linejoin="round">GFDL-CM2p5-FLOR-B01</text>
<text transform="translate(107.78,958.50) scale(1.1670,1.0596)" font-size="42.00" fill="#000" stroke="#000" stroke-width="0.25" stroke-linejoin="round">g</text>
<text transform="translate(90.93,1014.58) scale(1.1049,1.0596)" font-size="37.80" fill="#000" stroke="#000" stroke-width="0.25" stroke-linejoin="round">1</text>
<text transform="translate(49.81,1141.08) scale(1.2347,1.0596)" font-size="37.80" fill="#000" stroke="#000" stroke-width="0.25" stroke-linejoin="round">0.8</text>
<text transform="translate(49.70,1267.58) scale(1.2478,1.0596)" font-size="37.80" fill="#000" stroke="#000" stroke-width="0.25" stroke-linejoin="round">0.6</text>
<text transform="translate(50.15,1394.08) scale(1.2173,1.0596)" font-size="37.80" fill="#000" stroke="#000" stroke-width="0.25" stroke-linejoin="round">0.4</text>
<text transform="translate(122.23,1429.60) scale(1.1049,1.0596)" font-size="37.80" fill="#000" stroke="#000" stroke-width="0.25" stroke-linejoin="round">1</text>
<text transform="translate(206.69,1429.60) scale(1.1051,1.0596)" font-size="37.80" fill="#000" stroke="#000" stroke-width="0.25" stroke-linejoin="round">3</text>
<text transform="translate(291.27,1429.60) scale(1.1030,1.0596)" font-size="37.80" fill="#000" stroke="#000" stroke-width="0.25" stroke-linejoin="round">5</text>
<text transform="translate(374.79,1429.60) scale(1.1707,1.0596)" font-size="37.80" fill="#000" stroke="#000" stroke-width="0.25" stroke-linejoin="round">7</text>
<text transform="translate(459.07,1429.60) scale(1.1976,1.0596)" font-size="37.80" fill="#000" stroke="#000" stroke-width="0.25" stroke-linejoin="round">9</text>
<text transform="translate(531.49,1429.60) scale(1.1845,1.0596)" font-size="37.80" fill="#000" stroke="#000" stroke-width="0.25" stroke-linejoin="round">11</text>
<clipPath id="cph"><rect x="594.10" y="997.00" width="422.60" height="386.00"/></clipPath>
<g clip-path="url(#cph)">
<path d="M594.10,1042.00 L636.36,1074.00 L678.62,1105.00 L720.88,1129.00 L763.14,1150.00 L805.40,1150.00 L847.66,1138.40 L889.92,1108.70 L932.18,1072.00 L974.44,1061.70 L1016.70,1095.00 L1016.70,1220.00 L974.44,1190.00 L932.18,1172.00 L889.92,1172.00 L847.66,1175.00 L805.40,1175.00 L763.14,1166.00 L720.88,1141.00 L678.62,1114.00 L636.36,1082.00 L594.10,1048.00 Z" fill="#6a3d9a" fill-opacity="0.1"/>
<path d="M594.10,1040.50 L636.36,1065.00 L678.62,1097.00 L720.88,1123.20 L763.14,1155.10 L805.40,1174.50 L847.66,1189.70 L889.92,1214.00 L932.18,1245.90 L974.44,1287.40 L1016.70,1331.10 L1016.70,1378.80 L974.44,1337.60 L932.18,1289.50 L889.92,1250.60 L847.66,1223.20 L805.40,1202.50 L763.14,1184.10 L720.88,1158.20 L678.62,1118.00 L636.36,1078.00 L594.10,1047.50 Z" fill="#6a3d9a" fill-opacity="0.25"/>
<path d="M594.10,1041.50 L636.36,1069.80 L678.62,1104.00 L720.88,1126.00 L763.14,1141.00 L805.40,1145.30 L847.66,1147.60 L889.92,1152.20 L932.18,1170.50 L974.44,1188.80 L1016.70,1234.60 L1016.70,1303.30 L974.44,1268.20 L932.18,1233.80 L889.92,1203.20 L847.66,1182.90 L805.40,1175.90 L763.14,1167.00 L720.88,1146.00 L678.62,1120.00 L636.36,1079.80 L594.10,1047.50 Z" fill="#6a3d9a" fill-opacity="0.22"/>
<path d="M594.10,1041.50 L636.36,1069.00 L678.62,1103.00 L720.88,1127.00 L763.14,1150.00 L805.40,1165.40 L847.66,1173.40 L889.92,1172.80 L932.18,1175.00 L974.44,1200.90 L1016.70,1233.00 L1016.70,1315.00 L974.44,1265.90 L932.18,1230.00 L889.92,1209.40 L847.66,1200.00 L805.40,1191.40 L763.14,1174.00 L720.88,1147.00 L678.62,1119.00 L636.36,1079.00 L594.10,1047.50 Z" fill="#6a3d9a" fill-opacity="0.22"/>
<g stroke="#b0b0b0" stroke-opacity="0.7" stroke-width="1.68"><line x1="594.10" y1="997.00" x2="594.10" y2="1383.00"/><line x1="678.62" y1="997.00" x2="678.62" y2="1383.00"/><line x1="763.14" y1="997.00" x2="763.14" y2="1383.00"/><line x1="847.66" y1="997.00" x2="847.66" y2="1383.00"/><line x1="932.18" y1="997.00" x2="932.18" y2="1383.00"/><line x1="1016.70" y1="997.00" x2="1016.70" y2="1383.00"/><line x1="594.10" y1="1000.48" x2="1016.70" y2="1000.48"/><line x1="594.10" y1="1126.98" x2="1016.70" y2="1126.98"/><line x1="594.10" y1="1253.48" x2="1016.70" y2="1253.48"/><line x1="594.10" y1="1379.98" x2="1016.70" y2="1379.98"/></g>
<polyline points="594.10,1043.50 636.36,1070.00 678.62,1104.00 720.88,1133.20 763.14,1167.10 805.40,1186.50 847.66,1203.70 889.92,1230.00 932.18,1268.90 974.44,1312.40 1016.70,1357.10" fill="none" stroke="#6a3d9a" stroke-width="7.98" stroke-linejoin="round" stroke-linecap="square"/>
<polyline points="594.10,1043.50 636.36,1070.00 678.62,1104.00 720.88,1134.00 763.14,1157.90 805.40,1162.50 847.66,1154.50 889.92,1136.20 932.18,1117.80 974.44,1122.40 1016.70,1156.80" fill="none" stroke="#6a3d9a" stroke-width="2.10" stroke-linejoin="round" stroke-dasharray="13.44 3.36 2.10 3.36"/>
<polyline points="594.10,1044.50 636.36,1074.00 678.62,1111.00 720.88,1137.00 763.14,1162.00 805.40,1177.40 847.66,1185.40 889.92,1185.40 932.18,1190.00 974.44,1220.90 1016.70,1258.00" fill="none" stroke="#6a3d9a" stroke-width="7.98" stroke-linejoin="round" stroke-dasharray="7.98 13.17"/>
<polyline points="594.10,1044.50 636.36,1074.80 678.62,1112.00 720.88,1136.00 763.14,1153.00 805.40,1157.90 847.66,1157.90 889.92,1168.20 932.18,1188.80 974.44,1223.20 1016.70,1259.80" fill="none" stroke="#6a3d9a" stroke-width="7.98" stroke-linejoin="round" stroke-dasharray="29.53 12.77"/>
</g>
<g stroke="#000" stroke-width="4.20"><line x1="594.10" y1="1383.00" x2="594.10" y2="1372.50"/><line x1="678.62" y1="1383.00" x2="678.62" y2="1372.50"/><line x1="763.14" y1="1383.00" x2="763.14" y2="1372.50"/><line x1="847.66" y1="1383.00" x2="847.66" y2="1372.50"/><line x1="932.18" y1="1383.00" x2="932.18" y2="1372.50"/><line x1="1016.70" y1="1383.00" x2="1016.70" y2="1372.50"/><line x1="594.10" y1="1000.48" x2="604.60" y2="1000.48"/><line x1="594.10" y1="1126.98" x2="604.60" y2="1126.98"/><line x1="594.10" y1="1253.48" x2="604.60" y2="1253.48"/><line x1="594.10" y1="1379.98" x2="604.60" y2="1379.98"/></g>
<rect x="594.10" y="997.00" width="422.60" height="386.00" fill="none" stroke="#000" stroke-width="5.25" stroke-linejoin="miter"/>
<text transform="translate(595.81,985.30) scale(1.1675,1.0596)" font-size="31.50" fill="#6a3d9a" stroke="#6a3d9a" stroke-width="0.25" stroke-linejoin="round">GFDL-CM2p1-aer04</text>
<text transform="translate(568.26,958.50) scale(1.1478,1.0596)" font-size="42.00" fill="#000" stroke="#000" stroke-width="0.25" stroke-linejoin="round">h</text>
<text transform="translate(582.58,1429.60) scale(1.1049,1.0596)" font-size="37.80" fill="#000" stroke="#000" stroke-width="0.25" stroke-linejoin="round">1</text>
<text transform="translate(667.04,1429.60) scale(1.1051,1.0596)" font-size="37.80" fill="#000" stroke="#000" stroke-width="0.25" stroke-linejoin="round">3</text>
<text transform="translate(751.62,1429.60) scale(1.1030,1.0596)" font-size="37.80" fill="#000" stroke="#000" stroke-width="0.25" stroke-linejoin="round">5</text>
<text transform="translate(835.14,1429.60) scale(1.1707,1.0596)" font-size="37.80" fill="#000" stroke="#000" stroke-width="0.25" stroke-linejoin="round">7</text>
<text transform="translate(919.42,1429.60) scale(1.1976,1.0596)" font-size="37.80" fill="#000" stroke="#000" stroke-width="0.25" stroke-linejoin="round">9</text>
<text transform="translate(991.84,1429.60) scale(1.1845,1.0596)" font-size="37.80" fill="#000" stroke="#000" stroke-width="0.25" stroke-linejoin="round">11</text>
<clipPath id="cpi"><rect x="1054.20" y="997.00" width="422.60" height="386.00"/></clipPath>
<g clip-path="url(#cpi)">
<path d="M1054.20,1021.00 L1096.46,1036.50 L1138.72,1051.00 L1180.98,1061.50 L1223.24,1065.00 L1265.50,1064.00 L1307.76,1056.00 L1350.02,1041.00 L1392.28,1024.30 L1434.54,1016.50 L1476.80,1027.70 L1476.80,1052.00 L1434.54,1036.40 L1392.28,1041.60 L1350.02,1053.00 L1307.76,1065.00 L1265.50,1070.00 L1223.24,1070.00 L1180.98,1064.50 L1138.72,1053.50 L1096.46,1039.00 L1054.20,1023.00 Z" fill="#000000" fill-opacity="0.1"/>
<path d="M1054.20,1021.10 L1096.46,1036.90 L1138.72,1050.20 L1180.98,1063.10 L1223.24,1075.00 L1265.50,1087.10 L1307.76,1096.50 L1350.02,1110.40 L1392.28,1133.70 L1434.54,1159.60 L1476.80,1183.80 L1476.80,1218.80 L1434.54,1186.60 L1392.28,1145.70 L1350.02,1119.40 L1307.76,1104.50 L1265.50,1093.10 L1223.24,1081.00 L1180.98,1067.10 L1138.72,1054.20 L1096.46,1038.90 L1054.20,1023.10 Z" fill="#000000" fill-opacity="0.25"/>
<path d="M1054.20,1021.10 L1096.46,1036.90 L1138.72,1050.20 L1180.98,1060.00 L1223.24,1067.30 L1265.50,1075.00 L1307.76,1088.90 L1350.02,1106.90 L1392.28,1126.70 L1434.54,1141.10 L1476.80,1154.70 L1476.80,1174.70 L1434.54,1157.10 L1392.28,1136.70 L1350.02,1114.90 L1307.76,1094.90 L1265.50,1081.00 L1223.24,1071.30 L1180.98,1064.00 L1138.72,1054.20 L1096.46,1038.90 L1054.20,1023.10 Z" fill="#000000" fill-opacity="0.22"/>
<path d="M1054.20,1021.10 L1096.46,1036.90 L1138.72,1050.20 L1180.98,1060.50 L1223.24,1068.00 L1265.50,1077.00 L1307.76,1091.00 L1350.02,1108.00 L1392.28,1127.50 L1434.54,1139.50 L1476.80,1149.50 L1476.80,1169.50 L1434.54,1155.50 L1392.28,1137.50 L1350.02,1116.00 L1307.76,1097.00 L1265.50,1083.00 L1223.24,1072.00 L1180.98,1064.50 L1138.72,1054.20 L1096.46,1038.90 L1054.20,1023.10 Z" fill="#000000" fill-opacity="0.22"/>
<g stroke="#b0b0b0" stroke-opacity="0.7" stroke-width="1.68"><line x1="1054.20" y1="997.00" x2="1054.20" y2="1383.00"/><line x1="1138.72" y1="997.00" x2="1138.72" y2="1383.00"/><line x1="1223.24" y1="997.00" x2="1223.24" y2="1383.00"/><line x1="1307.76" y1="997.00" x2="1307.76" y2="1383.00"/><line x1="1392.28" y1="997.00" x2="1392.28" y2="1383.00"/><line x1="1476.80" y1="997.00" x2="1476.80" y2="1383.00"/><line x1="1054.20" y1="1000.48" x2="1476.80" y2="1000.48"/><line x1="1054.20" y1="1126.98" x2="1476.80" y2="1126.98"/><line x1="1054.20" y1="1253.48" x2="1476.80" y2="1253.48"/><line x1="1054.20" y1="1379.98" x2="1476.80" y2="1379.98"/></g>
<polyline points="1054.20,1022.10 1096.46,1037.90 1138.72,1052.20 1180.98,1065.10 1223.24,1078.00 1265.50,1090.10 1307.76,1100.50 1350.02,1114.40 1392.28,1138.70 1434.54,1171.60 1476.80,1202.80" fill="none" stroke="#000000" stroke-width="7.98" stroke-linejoin="round" stroke-linecap="square"/>
<polyline points="1054.20,1022.10 1096.46,1037.90 1138.72,1052.20 1180.98,1063.00 1223.24,1067.60 1265.50,1066.70 1307.76,1059.80 1350.02,1046.80 1392.28,1031.20 1434.54,1026.00 1476.80,1039.00" fill="none" stroke="#000000" stroke-width="2.10" stroke-linejoin="round" stroke-dasharray="13.44 3.36 2.10 3.36"/>
<polyline points="1054.20,1022.10 1096.46,1037.90 1138.72,1052.20 1180.98,1062.50 1223.24,1070.00 1265.50,1080.00 1307.76,1094.00 1350.02,1112.00 1392.28,1132.50 1434.54,1147.50 1476.80,1159.50" fill="none" stroke="#000000" stroke-width="7.98" stroke-linejoin="round" stroke-dasharray="7.98 13.17"/>
<polyline points="1054.20,1022.10 1096.46,1037.90 1138.72,1052.20 1180.98,1062.00 1223.24,1069.30 1265.50,1078.00 1307.76,1091.90 1350.02,1110.90 1392.28,1131.70 1434.54,1149.10 1476.80,1164.70" fill="none" stroke="#000000" stroke-width="7.98" stroke-linejoin="round" stroke-dasharray="29.53 12.77"/>
</g>
<g stroke="#000" stroke-width="4.20"><line x1="1054.20" y1="1383.00" x2="1054.20" y2="1372.50"/><line x1="1138.72" y1="1383.00" x2="1138.72" y2="1372.50"/><line x1="1223.24" y1="1383.00" x2="1223.24" y2="1372.50"/><line x1="1307.76" y1="1383.00" x2="1307.76" y2="1372.50"/><line x1="1392.28" y1="1383.00" x2="1392.28" y2="1372.50"/><line x1="1476.80" y1="1383.00" x2="1476.80" y2="1372.50"/><line x1="1054.20" y1="1000.48" x2="1064.70" y2="1000.48"/><line x1="1054.20" y1="1126.98" x2="1064.70" y2="1126.98"/><line x1="1054.20" y1="1253.48" x2="1064.70" y2="1253.48"/><line x1="1054.20" y1="1379.98" x2="1064.70" y2="1379.98"/></g>
<rect x="1054.20" y="997.00" width="422.60" height="386.00" fill="none" stroke="#000" stroke-width="5.25" stroke-linejoin="miter"/>
<text transform="translate(1056.28,985.30) scale(1.1700,1.0596)" font-size="31.50" fill="#000000" stroke="#000000" stroke-width="0.25" stroke-linejoin="round">Dynamic-model</text>
<text transform="translate(1028.99,958.50) scale(1.2740,1.0596)" font-size="42.00" fill="#000" stroke="#000" stroke-width="0.25" stroke-linejoin="round">i</text>
<text transform="translate(1042.68,1429.60) scale(1.1049,1.0596)" font-size="37.80" fill="#000" stroke="#000" stroke-width="0.25" stroke-linejoin="round">1</text>
<text transform="translate(1127.14,1429.60) scale(1.1051,1.0596)" font-size="37.80" fill="#000" stroke="#000" stroke-width="0.25" stroke-linejoin="round">3</text>
<text transform="translate(1211.72,1429.60) scale(1.1030,1.0596)" font-size="37.80" fill="#000" stroke="#000" stroke-width="0.25" stroke-linejoin="round">5</text>
<text transform="translate(1295.24,1429.60) scale(1.1707,1.0596)" font-size="37.80" fill="#000" stroke="#000" stroke-width="0.25" stroke-linejoin="round">7</text>
<text transform="translate(1379.52,1429.60) scale(1.1976,1.0596)" font-size="37.80" fill="#000" stroke="#000" stroke-width="0.25" stroke-linejoin="round">9</text>
<text transform="translate(1451.94,1429.60) scale(1.1845,1.0596)" font-size="37.80" fill="#000" stroke="#000" stroke-width="0.25" stroke-linejoin="round">11</text>
<text transform="translate(511.29,1479.60) scale(1.1929,1.0596)" font-size="42.00" fill="#000" stroke="#000" stroke-width="0.25" stroke-linejoin="round">Prediction lead (months)</text>
<text transform="translate(31.10,0) rotate(-90) translate(-774.65,0) scale(1.0277,1.0596)" font-size="42.00" fill="#000" stroke="#000" stroke-width="0.6" stroke-linejoin="round">ACC</text>
<line x1="1073.1" y1="1259.8" x2="1115.6999999999998" y2="1259.8" stroke="#000" stroke-width="7.98" stroke-linecap="square"/>
<line x1="1073.1" y1="1290.6" x2="1115.6999999999998" y2="1290.6" stroke="#000" stroke-width="2.10" stroke-dasharray="13.44 3.36 2.10 3.36"/>
<line x1="1073.1" y1="1321.8" x2="1115.6999999999998" y2="1321.8" stroke="#000" stroke-width="7.98" stroke-dasharray="7.98 13.17"/>
<line x1="1073.1" y1="1352.4" x2="1115.6999999999998" y2="1352.4" stroke="#000" stroke-width="7.98" stroke-dasharray="29.53 12.77"/>
<text transform="translate(1132.09,1267.20) scale(1.1691,1.0596)" font-size="21.00" fill="#000" stroke="#000" stroke-width="0.25" stroke-linejoin="round">Ensemble Mean</text>
<text transform="translate(1132.57,1298.00) scale(1.2254,1.0596)" font-size="21.00" fill="#000" stroke="#000" stroke-width="0.25" stroke-linejoin="round">Strategy 2 (Truth)</text>
<text transform="translate(1132.58,1329.00) scale(1.2068,1.0596)" font-size="21.00" fill="#000" stroke="#000" stroke-width="0.25" stroke-linejoin="round">Strategy 2 (3D-Geoformer)</text>
<text transform="translate(1132.58,1359.90) scale(1.2007,1.0596)" font-size="21.00" fill="#000" stroke="#000" stroke-width="0.25" stroke-linejoin="round">Strategy 2 (CNN)</text>
</svg>
</body></html>
